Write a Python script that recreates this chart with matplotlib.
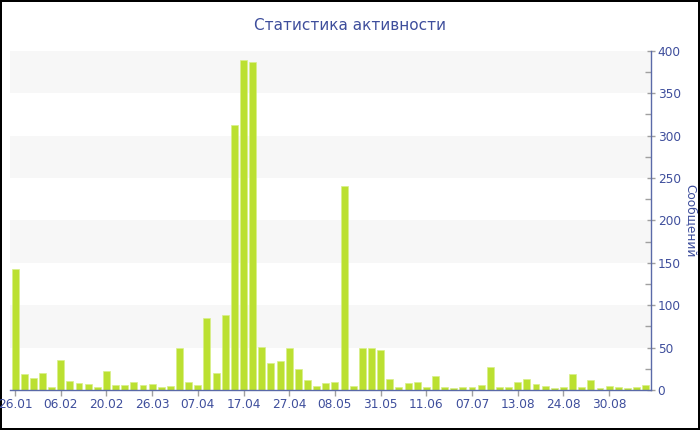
import matplotlib
matplotlib.use("Agg")
import matplotlib.pyplot as plt
from matplotlib.ticker import MultipleLocator

title = "Статистика активности"
y_label = "Сообщений"
values = [143, 19, 14, 20, 4, 35, 11, 8, 7, 3,
          22, 6, 6, 10, 6, 7, 4, 5, 50, 10,
          6, 85, 20, 89, 312, 389, 387, 51, 32, 34,
          50, 25, 12, 5, 8, 9, 241, 5, 49, 50,
          47, 13, 3, 8, 10, 4, 17, 3, 2, 3,
          3, 6, 27, 4, 4, 9, 13, 7, 5, 2,
          3, 19, 4, 12, 2, 5, 4, 2, 4, 6]
tick_labels = ["26.01", "06.02", "20.02", "26.03", "07.04", "17.04", "27.04",
               "08.05", "31.05", "11.06", "07.07", "13.08", "24.08", "30.08"]

blue = "#3e4e9c"
spine = "#5a6aa8"
bar_color = "#bbe031"

fig = plt.figure(figsize=(7, 4.3), dpi=100)
fig.patch.set_facecolor("white")
fig.patch.set_edgecolor("black")
fig.patch.set_linewidth(1.5)

ax = fig.add_axes([10/700, 40/430, 640.7/700, 339.3/430])
n = len(values)
x = list(range(n))

# background bands
for lo in range(50, 400, 100):
    ax.axhspan(lo, lo + 50, color="#f7f7f7", zorder=0, lw=0)

ax.bar(x, values, width=0.76, color=bar_color, edgecolor="#d8ef8a", linewidth=0.5, zorder=2)

ax.set_xlim(-0.55, n - 0.45)
ax.set_ylim(0, 400)

ax.yaxis.tick_right()
ax.yaxis.set_label_position("right")
ax.yaxis.set_major_locator(MultipleLocator(50))
ax.yaxis.set_minor_locator(MultipleLocator(25))
ax.tick_params(axis="y", which="major", direction="inout", length=6, width=1,
               color="#a0a0a0", labelcolor=blue, labelsize=8.7, pad=2)
ax.tick_params(axis="y", which="minor", direction="in", length=4, width=1,
               color="#a0a0a0")

ticks = list(range(0, 5 * len(tick_labels), 5))
ax.set_xticks(ticks)
ax.set_xticklabels(tick_labels)
ax.tick_params(axis="x", which="major", direction="out", length=4, width=1,
               color="#a0a0a0", labelcolor=blue, labelsize=8.7, pad=2)

for s in ["top", "left"]:
    ax.spines[s].set_visible(False)
ax.spines["bottom"].set_color(spine)
ax.spines["right"].set_color(spine)
ax.spines["bottom"].set_linewidth(1)
ax.spines["right"].set_linewidth(1)

ax.set_ylabel(y_label, color=blue, fontsize=8.7, rotation=-90, labelpad=12)
fig.text(0.5, 1 - 25/430, title, ha="center", va="center", color=blue, fontsize=11)

fig.savefig("out.png", dpi=100)
